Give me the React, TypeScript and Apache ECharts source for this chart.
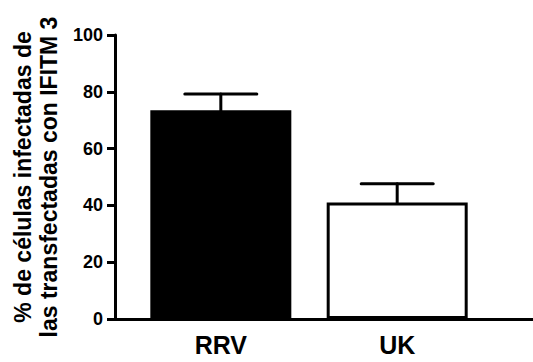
import React, { useEffect, useRef } from "react";
import * as echarts from "echarts";

const categories = ["RRV", "UK"];
const means = [73.5, 41];
const errorTops = [79.2, 47.6];
const barColors = ["#000000", "#ffffff"];
const yTicks = { min: 0, max: 100, interval: 20 };

const FONT = "'Liberation Sans', Arial, sans-serif";

export default function App() {
  const ref = useRef<HTMLDivElement>(null);
  useEffect(() => {
    if (!ref.current) return;
    const chart = echarts.init(ref.current, undefined, { renderer: "svg" });
    const barData = categories.map((c, i) => ({
      value: [i + 1, means[i]],
      itemStyle: { color: barColors[i], borderColor: "#000", borderWidth: 3 },
    }));
    const errData = categories.map((c, i) => [i + 1, means[i], errorTops[i]]);
    chart.setOption({
      animation: false,
      backgroundColor: "#fff",
      grid: { left: 115, right: 0, top: 35, bottom: 43, containLabel: false },
      xAxis: {
        type: "value",
        min: 0.4,
        max: 2.77,
        splitLine: { show: false },
        axisTick: { show: false },
        axisLine: { show: true, lineStyle: { color: "#000", width: 3 } },
        axisLabel: {
          customValues: [1, 2],
          formatter: (v: number) => categories[Math.round(v) - 1] ?? "",
          fontFamily: FONT,
          fontWeight: "bold",
          fontSize: 25,
          color: "#000",
          margin: 13,
        },
      },
      yAxis: {
        type: "value",
        min: yTicks.min,
        max: yTicks.max,
        interval: yTicks.interval,
        splitLine: { show: false },
        axisLine: { show: true, lineStyle: { color: "#000", width: 3 } },
        axisTick: { show: true, length: 8, lineStyle: { color: "#000", width: 3 } },
        axisLabel: {
          fontFamily: FONT,
          fontWeight: "bold",
          fontSize: 18,
          color: "#000",
          margin: 12,
        },
        name: "% de células infectadas de\nlas transfectadas con IFITM 3",
        nameLocation: "middle",
        nameGap: 53,
        nameTextStyle: {
          fontFamily: FONT,
          fontWeight: "bold",
          fontSize: 23,
          color: "#000",
          lineHeight: 26,
        },
      },
      series: [
        {
          type: "bar",
          data: barData,
          barWidth: 141,
          z: 2,
        },
        {
          type: "custom",
          z: 3,
          encode: { x: 0, y: [1, 2] },
          data: errData,
          renderItem: (params: any, api: any) => {
            const x = api.value(0);
            const m = api.value(1);
            const h = api.value(2);
            const p1 = api.coord([x, m]);
            const p2 = api.coord([x, h]);
            const half = 36;
            const style = { stroke: "#000", lineWidth: 3, lineCap: "round" };
            return {
              type: "group",
              children: [
                { type: "line", shape: { x1: p1[0], y1: p1[1], x2: p2[0], y2: p2[1] }, style },
                { type: "line", shape: { x1: p2[0] - half, y1: p2[1], x2: p2[0] + half, y2: p2[1] }, style },
              ],
            };
          },
        },
      ],
    });
    return () => chart.dispose();
  }, []);
  return (
    <div
      ref={ref}
      style={{ position: "fixed", left: 0, top: 0, width: 533, height: 362 }}
    />
  );
}
